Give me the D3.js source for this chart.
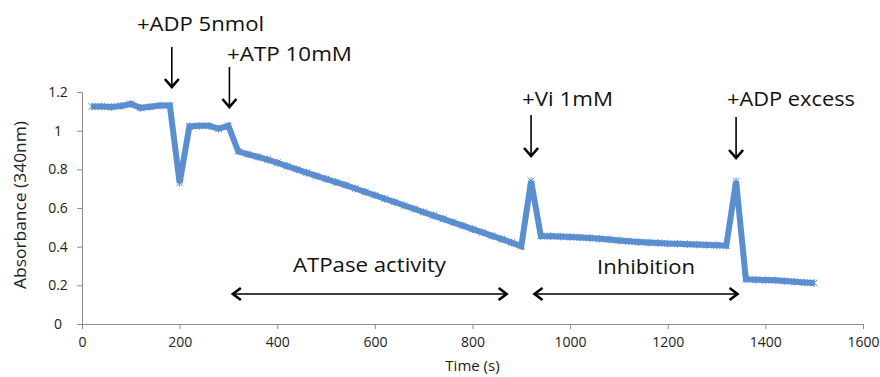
<!DOCTYPE html>
<html>
<head>
<meta charset="utf-8">
<script src="https://cdn.jsdelivr.net/npm/d3@7"></script>
<style>
  html, body { margin: 0; padding: 0; background: #fff; }
  svg { display: block; font-family: "Open Sans", "Lato", sans-serif; }
</style>
</head>
<body>
<svg id="chart" width="880" height="377"></svg>
<script>
// ---- Data ----
const times = [20,40,60,80,100,120,140,160,180,200,220,240,260,280,300,320,340,360,380,400,
  420,440,460,480,500,520,540,560,580,600,620,640,660,680,700,720,740,760,780,800,
  820,840,860,880,900,920,940,960,980,1000,1020,1040,1060,1080,1100,1120,1140,1160,1180,1200,
  1220,1240,1260,1280,1300,1320,1340,1360,1380,1400,1420,1440,1460,1480,1500];
const absorbance = [1.125,1.125,1.122,1.128,1.138,1.118,1.124,1.13,1.13,0.73,1.022,1.025,1.025,1.01,1.025,0.893,
  0.878,0.864,0.85,0.834,0.817,0.8,0.783,0.766,0.75,0.734,0.718,0.701,0.683,0.666,
  0.648,0.631,0.613,0.596,0.578,0.561,0.544,0.526,0.509,0.491,0.474,0.456,0.439,0.421,0.403,
  0.74,0.455,0.454,0.452,0.45,0.448,0.445,0.441,0.437,0.432,0.428,0.424,0.421,0.419,0.416,
  0.415,0.413,0.411,0.409,0.407,0.405,0.738,0.232,0.229,0.227,0.226,0.222,0.219,0.215,0.212];
const xTicks = [0,200,400,600,800,1000,1200,1400,1600];
const yTicks = [0,0.2,0.4,0.6,0.8,1,1.2];
const xTitle = "Time (s)";
const yTitle = "Absorbance (340nm)";
const additionLabels = ["+ADP 5nmol", "+ATP 10mM", "+Vi 1mM", "+ADP excess"];
const additionTimes = [184, 302, 920, 1340];
const phaseLabels = ["ATPase activity", "Inhibition"];
const phaseStart = [307, 925];
const phaseEnd = [872, 1345];

// ---- Layout ----
const svg = d3.select("#chart");
const margin = {left: 82, right: 17, top: 92, bottom: 53};
const W = 880, H = 377;
const x = d3.scaleLinear().domain([0,1600]).range([margin.left, W - margin.right]);
const y = d3.scaleLinear().domain([0,1.2]).range([H - margin.bottom, margin.top]);
const axisColor = "#8c8c8c";
const textColor = "#222";

// X axis
const gx = svg.append("g").attr("transform", `translate(0,${y(0)})`)
  .call(d3.axisBottom(x).tickValues(xTicks).tickFormat(d3.format("d")).tickSizeInner(5).tickSizeOuter(0).tickPadding(8));
gx.select(".domain").attr("stroke", axisColor);
gx.selectAll(".tick line").attr("stroke", axisColor);
gx.selectAll(".tick text").attr("fill", textColor).attr("font-size", 14).attr("font-family", "Open Sans");

// Y axis
const gy = svg.append("g").attr("transform", `translate(${x(0)},0)`)
  .call(d3.axisLeft(y).tickValues(yTicks).tickFormat(d => d3.format("~g")(d)).tickSizeInner(5).tickSizeOuter(0).tickPadding(8));
gy.select(".domain").attr("stroke", axisColor);
gy.selectAll(".tick line").attr("stroke", axisColor);
gy.selectAll(".tick text").attr("fill", textColor).attr("font-size", 14).attr("font-family", "Open Sans")
  .attr("text-anchor", "middle").attr("x", -24);

// Axis titles
svg.append("text").attr("x", (x(0)+x(1600))/2).attr("y", 371)
  .attr("text-anchor", "middle").attr("font-size", 15).attr("fill", textColor).text(xTitle);
svg.append("text").attr("transform", `translate(26,${(y(0)+y(1.2))/2 - 3}) rotate(-90)`)
  .attr("text-anchor", "middle").attr("font-size", 16.5).attr("fill", textColor)
  .attr("textLength", 168).attr("lengthAdjust", "spacingAndGlyphs").text(yTitle);

// Data line
const data = times.map((t,i) => ({t, v: absorbance[i]}));
const lineColor = "#5a8ecf";
svg.append("path").datum(data)
  .attr("d", d3.line().x(d => x(d.t)).y(d => y(d.v)))
  .attr("fill", "none").attr("stroke", lineColor).attr("stroke-width", 6)
  .attr("stroke-linejoin", "miter").attr("stroke-miterlimit", 1.6);
// small star markers
const mk = svg.append("g").attr("stroke", lineColor).attr("stroke-width", 1);
data.forEach(d => {
  const cx = x(d.t), cy = y(d.v), s = 3.4;
  mk.append("path").attr("d", `M${cx-s},${cy-s}L${cx+s},${cy+s}M${cx-s},${cy+s}L${cx+s},${cy-s}M${cx},${cy-s-0.5}L${cx},${cy+s+0.5}`);
});

// Annotation arrows (down)
const textY = [31, 61, 106, 106];
const textX = [137, 227, 522, 727];
const textW = [127, 125, 91, 128];
const arrowTop = [47, 67, 115, 117];
const arrowBot = [88, 108, 157, 159];
function downArrow(cx, y0, y1) {
  svg.append("line").attr("x1", cx).attr("x2", cx).attr("y1", y0).attr("y2", y1 - 1)
    .attr("stroke", "#000").attr("stroke-width", 1.6);
  svg.append("path").attr("d", `M${cx-7},${y1-9}L${cx},${y1-1}L${cx+7},${y1-9}`)
    .attr("fill", "none").attr("stroke", "#000").attr("stroke-width", 2.6).attr("stroke-linejoin", "miter");
}
additionLabels.forEach((lab, i) => {
  svg.append("text").attr("x", textX[i]).attr("y", textY[i]).attr("font-size", 20)
    .attr("textLength", textW[i]).attr("lengthAdjust", "spacingAndGlyphs")
    .attr("fill", "#111").text(lab);
  downArrow(x(additionTimes[i]), arrowTop[i], arrowBot[i]);
});

// Phase double arrows
const phaseTextX = [293, 597];
const phaseTextW = [153, 98];
const phaseTextY = [272, 274];
function doubleArrow(x0, x1, yy) {
  svg.append("line").attr("x1", x0 + 1).attr("x2", x1 - 1).attr("y1", yy).attr("y2", yy)
    .attr("stroke", "#000").attr("stroke-width", 1.4);
  svg.append("path").attr("d", `M${x0+9},${yy-6}L${x0+1},${yy}L${x0+9},${yy+6}`)
    .attr("fill", "none").attr("stroke", "#000").attr("stroke-width", 2.6);
  svg.append("path").attr("d", `M${x1-9},${yy-6}L${x1-1},${yy}L${x1-9},${yy+6}`)
    .attr("fill", "none").attr("stroke", "#000").attr("stroke-width", 2.6);
}
phaseLabels.forEach((lab, i) => {
  const x0 = x(phaseStart[i]), x1 = x(phaseEnd[i]);
  doubleArrow(x0, x1, 294);
  svg.append("text").attr("x", phaseTextX[i]).attr("y", phaseTextY[i])
    .attr("font-size", 20).attr("textLength", phaseTextW[i]).attr("lengthAdjust", "spacingAndGlyphs")
    .attr("fill", "#111").text(lab);
});
</script>
</body>
</html>
